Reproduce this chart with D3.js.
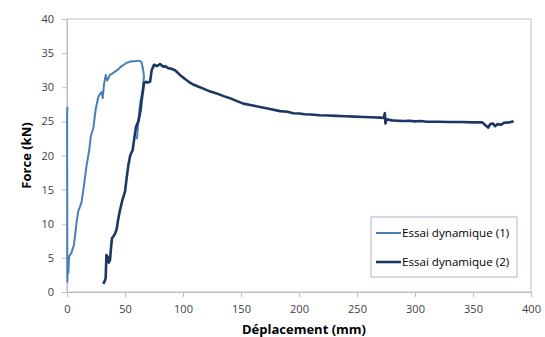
<!DOCTYPE html>
<html>
<head>
<meta charset="utf-8">
<script src="https://cdn.jsdelivr.net/npm/d3@7"></script>
<style>
  body { margin: 0; background: #fff; }
  text { font-family: "Open Sans", sans-serif; }
</style>
</head>
<body>
<div id="chart"></div>
<script>
// values
const seriesNames = ['Essai dynamique (1)', 'Essai dynamique (2)'];

const disp1 = [0, 0.4, 0.1, 0.2, 0.3, 0.8, 1.2, 1.8, 3.7, 6.0, 7.2, 8.3, 9.7, 11.0, 12.6, 14.7, 16.9, 19.2, 20.5, 21.3,
  22.7, 24.0, 25.0, 27.0, 28.5, 29.9, 30.8, 31.9, 33.4, 34.7, 37.1, 39.0, 41.4, 44.0, 47.1, 49.0, 51.5, 53.5, 55.8, 58.5,
  61.5, 63.5, 64.4, 65.7, 66.4, 65.0, 62.9, 61.5, 60.3];
const force1 = [26.6, 27.0, 26.2, 14.0, 1.5, 4.0, 2.8, 5.2, 5.7, 6.9, 8.6, 10.3, 11.8, 12.4, 13.2, 15.7, 18.6, 20.8, 22.8, 23.3,
  24.0, 25.8, 27.0, 28.6, 29.0, 29.3, 28.4, 30.4, 31.8, 31.0, 31.8, 32.0, 32.3, 32.6, 33.1, 33.3, 33.6, 33.7, 33.8, 33.8,
  33.9, 33.8, 33.6, 32.5, 31.6, 29.5, 27.5, 25.0, 22.4];

const disp2 = [31.3, 32.5, 33.3, 34.0, 35.2, 36.0, 37.1, 37.8, 38.8, 39.9, 41.5, 42.8, 44.3, 45.7, 47.5, 50.0, 51.5, 52.9, 54.5, 56.6,
  58.6, 59.5, 61.5, 62.5, 63.5, 64.3, 65.2, 66.4, 68.0, 69.3, 71.6, 73.0, 75.0, 77.3, 80.2, 83.0, 84.5, 87.3, 90.0, 93.1,
  95.0, 97.4, 101.7, 105.0, 108.9, 113.0, 117.5, 123.0, 129.0, 135.0, 140.5, 146.0, 152.0, 158.0, 166.4, 175.0, 183.6, 190.0, 195.0, 200.0,
  205.0, 210.0, 218.0, 225.0, 232.0, 240.0, 248.0, 255.0, 262.0, 270.0, 273.0, 274.0, 274.5, 275.5, 280.0, 285.0, 290.0, 295.0, 300.0, 305.0,
  310.0, 320.0, 330.0, 340.0, 350.0, 358.0, 361.0, 363.0, 365.0, 367.0, 369.0, 371.0, 374.0, 377.0, 381.0, 385.0];
const force2 = [1.2, 1.6, 2.0, 5.4, 5.1, 4.3, 4.7, 6.2, 7.9, 8.1, 8.6, 9.2, 10.8, 12.0, 13.3, 14.7, 16.8, 18.6, 20.0, 20.8,
  23.2, 24.2, 25.0, 25.8, 26.7, 28.0, 29.1, 30.6, 30.8, 30.7, 30.8, 32.5, 33.3, 33.1, 33.4, 33.0, 33.1, 32.8, 32.7, 32.5,
  32.2, 31.8, 31.2, 30.8, 30.4, 30.1, 29.8, 29.4, 29.1, 28.7, 28.4, 28.0, 27.6, 27.4, 27.1, 26.8, 26.5, 26.4, 26.2, 26.15,
  26.05, 26.0, 25.9, 25.85, 25.8, 25.75, 25.7, 25.65, 25.6, 25.55, 25.5, 26.2, 24.7, 25.3, 25.15, 25.1, 25.05, 25.1, 25.0, 25.05,
  24.95, 24.95, 24.9, 24.9, 24.85, 24.85, 24.4, 24.1, 24.6, 24.7, 24.3, 24.6, 24.5, 24.8, 24.85, 25.0];

const xTicks = [0, 50, 100, 150, 200, 250, 300, 350, 400];
const yTicks = [0, 5, 10, 15, 20, 25, 30, 35, 40];
const colors = ['#4a7ebb', '#1c3763'];

const width = 545, height = 337;
const margin = {top: 19, right: 14, bottom: 45, left: 67};

const svg = d3.select('#chart')
  .append('svg')
  .attr('width', width)
  .attr('height', height);

const xScale = d3.scaleLinear()
  .domain([0, 400])
  .range([margin.left, width - margin.right]);

const yScale = d3.scaleLinear()
  .domain([0, 40])
  .range([height - margin.bottom, margin.top]);

// plot frame
svg.append('rect')
  .attr('x', xScale(0))
  .attr('y', yScale(40))
  .attr('width', xScale(400) - xScale(0))
  .attr('height', yScale(0) - yScale(40))
  .attr('fill', 'none')
  .attr('stroke', '#bfbfbf')
  .attr('stroke-width', 1);

const xAxis = svg.append('g')
  .attr('transform', `translate(0,${yScale(0)})`)
  .call(d3.axisBottom(xScale).tickValues(xTicks).tickSize(5).tickPadding(8));

const yAxis = svg.append('g')
  .attr('transform', `translate(${xScale(0)},0)`)
  .call(d3.axisLeft(yScale).tickValues(yTicks).tickSize(5).tickPadding(8));

[xAxis, yAxis].forEach(ax => {
  ax.select('.domain').attr('stroke', '#bfbfbf');
  ax.selectAll('.tick line').attr('stroke', '#bfbfbf');
  ax.selectAll('.tick text')
    .attr('fill', '#404040')
    .style('font-size', '11px')
    .style('font-family', '"Open Sans", sans-serif');
});

const line = d3.line()
  .x(d => xScale(d[0]))
  .y(d => yScale(d[1]));

const series = [
  d3.zip(disp1, force1),
  d3.zip(disp2, force2)
];

svg.selectAll('.serie')
  .data(series)
  .enter()
  .append('path')
  .attr('class', 'serie')
  .attr('d', line)
  .attr('fill', 'none')
  .attr('stroke', (d, i) => colors[i])
  .attr('stroke-width', (d, i) => i == 0 ? 2 : 2.6)
  .attr('stroke-linejoin', 'round');

// axis titles
svg.append('text')
  .attr('x', 304)
  .attr('y', 334)
  .attr('text-anchor', 'middle')
  .style('font-size', '13px')
  .style('font-weight', 'bold')
  .attr('fill', '#000')
  .text('Déplacement (mm)');

svg.append('text')
  .attr('transform', `translate(31,${(yScale(0) + yScale(40)) / 2}) rotate(-90)`)
  .attr('text-anchor', 'middle')
  .style('font-size', '13px')
  .style('font-weight', 'bold')
  .attr('fill', '#000')
  .text('Force (kN)');

// legend
const legend = svg.append('g').attr('transform', 'translate(371,217)');
legend.append('rect')
  .attr('width', 146)
  .attr('height', 60)
  .attr('fill', '#fff')
  .attr('stroke', '#a9b8cf');

legend.selectAll('.item')
  .data(seriesNames)
  .enter()
  .append('g')
  .attr('class', 'item')
  .attr('transform', (d, i) => `translate(0,${16 + i * 29})`)
  .each(function(d, i) {
    const g = d3.select(this);
    g.append('line')
      .attr('x1', 5).attr('x2', 30)
      .attr('stroke', colors[i])
      .attr('stroke-width', i == 0 ? 2 : 2.6);
    g.append('text')
      .attr('x', 31)
      .attr('dy', '0.35em')
      .style('font-size', '11.6px')
      .attr('fill', '#000')
      .text(d);
  });
</script>
</body>
</html>
